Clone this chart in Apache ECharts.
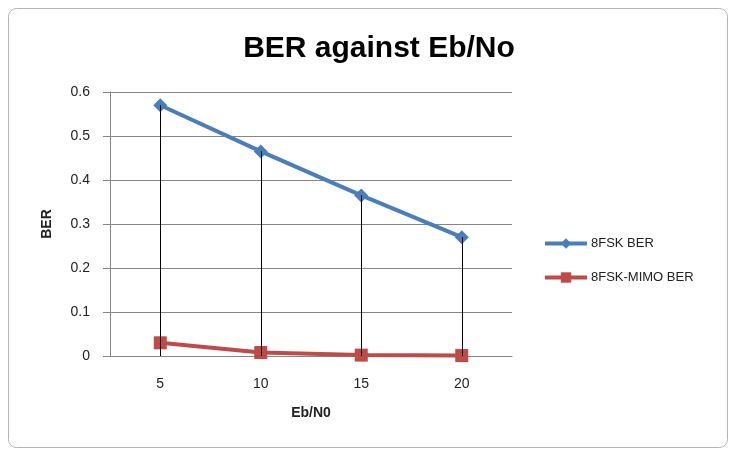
<!DOCTYPE html>
<html><head><meta charset="utf-8">
<script src="https://cdn.jsdelivr.net/npm/echarts@6/dist/echarts.min.js"></script>
<style>html,body{margin:0;padding:0;background:#fff}#c{width:731px;height:450px}</style>
</head><body><div id="c"></div>
<script>
const categories = ['5', '10', '15', '20'];
const fskBer = [0.57, 0.465, 0.365, 0.27];
const mimoBer = [0.03, 0.008, 0.002, 0.001];
const yTicks = [0, 0.1, 0.2, 0.3, 0.4, 0.5, 0.6];

const chart = echarts.init(document.getElementById('c'));
const font = 'Liberation Sans';
chart.setOption({
  animation: false,
  backgroundColor: '#fff',
  title: {
    text: 'BER against Eb/No', left: 374, top: 29, textAlign: 'center',
    textStyle: { fontFamily: font, fontWeight: 'bold', fontSize: 30, color: '#000' }
  },
  graphic: [{
    type: 'rect', z: -1, silent: true,
    shape: { x: 8.5, y: 8.5, width: 719, height: 439, r: 8 },
    style: { fill: 'none', stroke: '#b5b5b5', lineWidth: 1 }
  }],
  legend: {
    orient: 'vertical', left: 538, top: 232, itemGap: 21,
    itemWidth: 42, itemHeight: 13,
    lineStyle: { width: 4 },
    textStyle: { fontFamily: font, fontSize: 13, color: '#222', padding: [0, 0, 0, -1] },
    data: ['8FSK BER', '8FSK-MIMO BER']
  },
  grid: { left: 110, right: 219, top: 92, bottom: 94 },
  xAxis: {
    type: 'category', data: categories, boundaryGap: true,
    name: 'Eb/N0', nameLocation: 'middle', nameGap: 50,
    nameTextStyle: { fontFamily: font, fontWeight: 'bold', fontSize: 14, color: '#222' },
    axisLine: { lineStyle: { color: '#868686', width: 1 } },
    axisTick: { show: false },
    axisLabel: { fontFamily: font, fontSize: 14, color: '#222', margin: 21 }
  },
  yAxis: {
    type: 'value', min: yTicks[0], max: yTicks[yTicks.length - 1], interval: 0.1,
    name: 'BER', nameLocation: 'middle', nameGap: 56, nameRotate: 90,
    nameTextStyle: { fontFamily: font, fontWeight: 'bold', fontSize: 14, color: '#222' },
    axisLine: { show: true, lineStyle: { color: '#868686', width: 1 } },
    axisTick: { show: true, length: 7, lineStyle: { color: '#868686' } },
    splitLine: { lineStyle: { color: '#868686', width: 1 } },
    axisLabel: { fontFamily: font, fontSize: 14, color: '#222', margin: 20 }
  },
  series: [
    {
      name: '8FSK BER', type: 'line', data: fskBer,
      symbol: 'diamond', symbolSize: 14,
      lineStyle: { color: '#4A7EBB', width: 4 },
      itemStyle: { color: '#4A7EBB' }, z: 3
    },
    {
      name: '8FSK-MIMO BER', type: 'line', data: mimoBer,
      symbol: 'rect', symbolSize: 13,
      lineStyle: { color: '#BE4B48', width: 4 },
      itemStyle: { color: '#BE4B48' }, z: 2
    },
    {
      type: 'custom', z: 10, silent: true,
      data: fskBer.map((v, i) => [i, v]),
      renderItem: function (params, api) {
        const p1 = api.coord([api.value(0), api.value(1)]);
        const p0 = api.coord([api.value(0), 0]);
        return { type: 'line', shape: { x1: Math.round(p1[0]) + 0.5, y1: p1[1], x2: Math.round(p0[0]) + 0.5, y2: p0[1] },
                 style: { stroke: '#000', lineWidth: 1 } };
      }
    }
  ]
});
</script></body></html>
